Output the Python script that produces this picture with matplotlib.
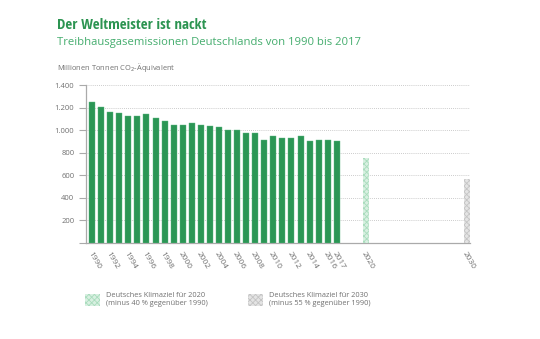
import matplotlib.pyplot as plt
import matplotlib
import numpy as np
from matplotlib.patches import Patch
from matplotlib.ticker import FuncFormatter

matplotlib.rcParams['font.family'] = ['Open Sans', 'DejaVu Sans']
matplotlib.rcParams['hatch.linewidth'] = 0.6

# Treibhausgasemissionen Deutschland, Mio. t CO2-Äquivalent
jahre = list(range(1990, 2018))
emissionen = [1251, 1204, 1156, 1148, 1125, 1123, 1143, 1107, 1081, 1048,
              1046, 1063, 1043, 1038, 1023, 997, 999, 975, 978, 909,
              944, 925, 929, 948, 904, 907, 909, 905]
ziel_jahre = [2020, 2030]
ziel_werte = [751, 563]
ziel_labels = ['Deutsches Klimaziel für 2020\n(minus 40 % gegenüber 1990)',
               'Deutsches Klimaziel für 2030\n(minus 55 % gegenüber 1990)']
tick_jahre = list(range(1990, 2017, 2)) + [2017, 2020, 2030]

gruen = '#2b9655'
grau = '#707070'

fig = plt.figure(figsize=(5.4, 3.39), dpi=100)
ax = fig.add_axes([85.5 / 540, 1 - 242.6 / 339, (470 - 85.5) / 540, (242.6 - 85) / 339])

# Positionen: ein Slot pro Jahr bis 2017, danach Lücken für die Zieljahre
pos = np.arange(len(jahre))
ziel_pos = [len(jahre) + 2.2, len(jahre) + 13.4]
pos_map = dict(zip(jahre, pos))
pos_map.update(dict(zip(ziel_jahre, ziel_pos)))

ax.bar(pos, emissionen, width=0.66, color=gruen, edgecolor='#5fb782', linewidth=0.3, zorder=3)
ax.bar(ziel_pos[0], ziel_werte[0], width=0.66, color='#d8f0e1', edgecolor='#a9dcbd',
       hatch='xxxxxx', linewidth=0, zorder=3)
ax.bar(ziel_pos[1], ziel_werte[1], width=0.66, color='#e4e4e4', edgecolor='#c4c4c4',
       hatch='xxxxxx', linewidth=0, zorder=3)

ax.set_xlim(-0.73, 41.7)
ax.set_ylim(0, 1400)
ax.set_yticks(range(0, 1401, 200))
ax.yaxis.set_major_formatter(FuncFormatter(lambda v, p: '' if v == 0 else f'{int(v):,}'.replace(',', '.')))
ax.grid(axis='y', color='#bbbbbb', linestyle=(0, (1, 1.5)), linewidth=0.6, zorder=0)

ax.set_xticks([pos_map[j] for j in tick_jahre])
ax.set_xticklabels([str(j) for j in tick_jahre], rotation=-60, ha='left', va='top',
                   rotation_mode='anchor')
ax.tick_params(axis='x', length=0, pad=6, labelsize=6, labelcolor=grau)
ax.tick_params(axis='y', length=5, width=0.8, color='#aaaaaa', pad=3, labelsize=5.5, labelcolor=grau)
for s in ['top', 'right']:
    ax.spines[s].set_visible(False)
for s in ['left', 'bottom']:
    ax.spines[s].set_color('#aaaaaa')
    ax.spines[s].set_linewidth(0.9)

fig.text(57 / 540, 1 - 25 / 339, 'Der Weltmeister ist nackt', fontsize=10.8, fontweight='bold',
         color='#2c9451', va='center', ha='left', fontstretch='condensed',
         family=['Open Sans Condensed', 'Roboto Condensed', 'Noto Sans Condensed',
                 'Liberation Sans Narrow', 'Roboto'])
fig.text(57 / 540, 1 - 43 / 339, 'Treibhausgasemissionen Deutschlands von 1990 bis 2017',
         fontsize=8.1, color='#45ad6e', va='center', ha='left')
fig.text(57 / 540, 1 - 68 / 339, 'Millionen Tonnen CO$_2$-Äquivalent', fontsize=5.4,
         color=grau, va='center', ha='left')

handles = [Patch(facecolor='#d8f0e1', edgecolor='#a9dcbd', hatch='xxxxxx', linewidth=0),
           Patch(facecolor='#e4e4e4', edgecolor='#c4c4c4', hatch='xxxxxx', linewidth=0)]
fig.legend(handles, ziel_labels, loc='upper left', bbox_to_anchor=(82 / 540, 1 - 289 / 339),
           ncol=2, frameon=False, fontsize=5.3, labelcolor=grau, handlelength=2.0,
           handleheight=2.1, handletextpad=0.9, columnspacing=5.4, borderaxespad=0)

fig.savefig('out.png', dpi=100, facecolor='white')
